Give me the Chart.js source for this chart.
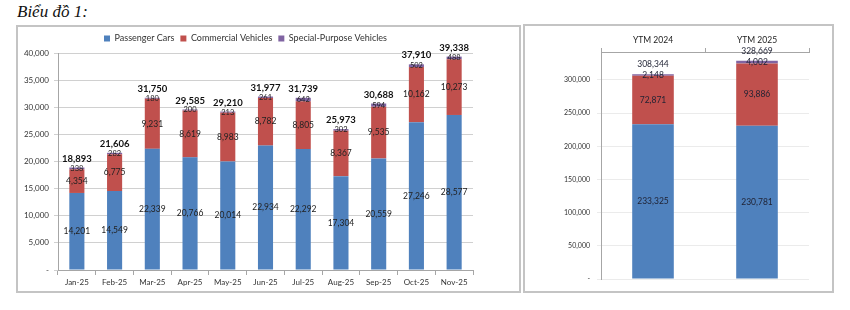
<!DOCTYPE html>
<html>
<head>
<meta charset="utf-8">
<script src="https://cdn.jsdelivr.net/npm/chart.js@4.4.1/dist/chart.umd.min.js"></script>
<style>
  body { margin: 0; background: #fff; width: 850px; height: 310px; position: relative; overflow: hidden; }
  #title { position: absolute; left: 17px; top: 2px; font: italic 17px "Liberation Serif", serif; color: #111; }
  .box { position: absolute; box-sizing: border-box; border: 2px solid #c4c4c4; background: #fff; }
  #leftBox { left: 16px; top: 25px; width: 505px; height: 268px; }
  #rightBox { left: 523px; top: 24px; width: 311px; height: 269px; }
  canvas { display: block; }
</style>
</head>
<body>
<div id="title">Biểu đồ 1:</div>
<div class="box" id="leftBox"><canvas id="monthChart" width="501" height="264"></canvas></div>
<div class="box" id="rightBox"><canvas id="ytmChart" width="307" height="265"></canvas></div>

<script>
// monthly data
var months = ['Jan-25', 'Feb-25', 'Mar-25', 'Apr-25', 'May-25', 'Jun-25', 'Jul-25', 'Aug-25', 'Sep-25', 'Oct-25', 'Nov-25'];
var passengerCars = [14201, 14549, 22339, 20766, 20014, 22934, 22292, 17304, 20559, 27246, 28577];
var commercialVehicles = [4354, 6775, 9231, 8619, 8983, 8782, 8805, 8367, 9535, 10162, 10273];
var specialVehicles = [338, 282, 180, 200, 213, 261, 642, 302, 594, 502, 488];
var monthTotals = [18893, 21606, 31750, 29585, 29210, 31977, 31739, 25973, 30688, 37910, 39338];
var monthTicks = [0, 5000, 10000, 15000, 20000, 25000, 30000, 35000, 40000];

// year to month
var ytmLabels = ['YTM 2024', 'YTM 2025'];
var ytmPassenger = [233325, 230781];
var ytmCommercial = [72871, 93886];
var ytmSpecial = [2148, 4002];
var ytmTotals = [308344, 328669];
var ytmTicks = [0, 50000, 100000, 150000, 200000, 250000, 300000];

var seriesNames = ['Passenger Cars', 'Commercial Vehicles', 'Special-Purpose Vehicles'];
var colors = ['#4F81BD', '#C0504D', '#8064A2'];
var FONT = 'Lato, "Open Sans", sans-serif';

function fmt(v) {
  return v.toLocaleString('en-US');
}

// draws the value inside each segment + the total above the stack
var stackLabels = {
  id: 'stackLabels',
  afterDatasetsDraw: function (chart, args, opts) {
    var ctx = chart.ctx;
    ctx.save();
    ctx.textAlign = 'center';
    ctx.textBaseline = 'middle';
    chart.data.datasets.forEach(function (ds, i) {
      var meta = chart.getDatasetMeta(i);
      meta.data.forEach(function (bar, j) {
        ctx.font = opts.fonts[i];
        ctx.fillStyle = opts.color;
        ctx.fillText(fmt(ds.data[j]), bar.x, (bar.y + bar.base) / 2);
      });
    });
    var last = chart.getDatasetMeta(chart.data.datasets.length - 1);
    last.data.forEach(function (bar, j) {
      ctx.font = opts.totalFont;
      ctx.fillStyle = opts.totalColor;
      ctx.fillText(fmt(opts.totals[j]), bar.x, bar.y - opts.totalOffset);
    });
    ctx.restore();
  }
};

function makeSets(a, b, c) {
  return [a, b, c].map(function (d, i) {
    return {
      label: seriesNames[i],
      data: d,
      backgroundColor: colors[i],
      borderWidth: 0,
      categoryPercentage: 1,
      barPercentage: 0.4
    };
  });
}

function tickLabel(v) {
  return v === 0 ? '-' : fmt(v);
}

new Chart(document.getElementById('monthChart'), {
  type: 'bar',
  data: { labels: months, datasets: makeSets(passengerCars, commercialVehicles, specialVehicles) },
  options: {
    responsive: false,
    animation: false,
    layout: { padding: { top: 1, right: 46, bottom: 0, left: 0 } },
    plugins: {
      legend: {
        position: 'top',
        labels: { boxWidth: 6, boxHeight: 6, padding: 6, color: '#333', font: { family: FONT, size: 9 } }
      },
      tooltip: { enabled: false },
      stackLabels: {
        fonts: ['8.5px ' + FONT, '8.5px ' + FONT, '7.5px ' + FONT],
        color: '#222',
        totalFont: 'bold 9.5px ' + FONT,
        totalColor: '#111',
        totals: monthTotals,
        totalOffset: 9
      }
    },
    scales: {
      x: {
        stacked: true,
        grid: { display: true, drawOnChartArea: false, offset: true, tickLength: 5, color: '#a6a6a6' },
        border: { color: '#a6a6a6' },
        ticks: { color: '#333', font: { family: FONT, size: 8 }, padding: 3 },
        afterFit: function (s) { s.height = 21; }
      },
      y: {
        stacked: true,
        min: 0,
        max: 40000,
        grid: { color: '#d0d0d0', tickLength: 4 },
        border: { color: '#a6a6a6' },
        afterBuildTicks: function (s) {
          s.ticks = monthTicks.map(function (v) { return { value: v }; });
        },
        ticks: {
          autoSkip: false,
          color: '#333',
          padding: 5,
          font: { family: FONT, size: 8 },
          callback: tickLabel
        },
        afterFit: function (s) { s.width = 40; }
      }
    }
  },
  plugins: [stackLabels]
});

new Chart(document.getElementById('ytmChart'), {
  type: 'bar',
  data: { labels: ytmLabels, datasets: makeSets(ytmPassenger, ytmCommercial, ytmSpecial) },
  options: {
    responsive: false,
    animation: false,
    layout: { padding: { top: 0, right: 23, bottom: 12, left: 0 } },
    plugins: {
      legend: { display: false },
      tooltip: { enabled: false },
      stackLabels: {
        fonts: ['8.5px ' + FONT, '8.5px ' + FONT, '8.5px ' + FONT],
        color: '#1f2233',
        totalFont: '8.5px ' + FONT,
        totalColor: '#1f2233',
        totals: ytmTotals,
        totalOffset: 10
      }
    },
    scales: {
      x: {
        position: 'top',
        stacked: true,
        grid: { display: true, drawOnChartArea: false, offset: true, tickLength: 4, color: '#a6a6a6' },
        border: { color: '#a6a6a6' },
        ticks: { color: '#222', font: { family: FONT, size: 8.5 }, padding: 3 },
        afterFit: function (s) { s.height = 26; }
      },
      y: {
        stacked: true,
        min: 0,
        max: 342000,
        grid: { color: '#ebebeb', tickLength: 4 },
        border: { color: '#a6a6a6' },
        afterBuildTicks: function (s) {
          s.ticks = ytmTicks.map(function (v) { return { value: v }; });
        },
        ticks: {
          autoSkip: false,
          color: '#333',
          padding: 7,
          font: { family: FONT, size: 7 },
          callback: tickLabel
        },
        afterFit: function (s) { s.width = 76; }
      }
    }
  },
  plugins: [stackLabels]
});
</script>
</body>
</html>
